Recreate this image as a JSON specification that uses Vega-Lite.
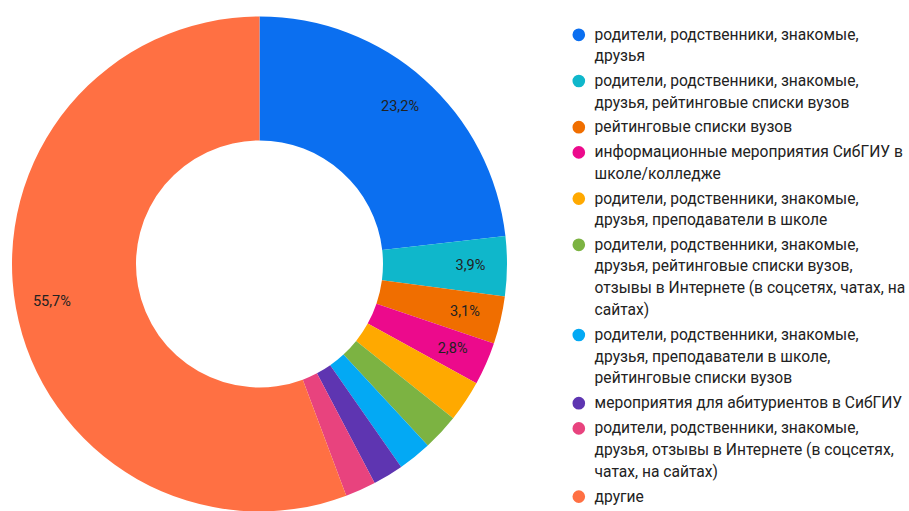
{
  "$schema": "https://vega.github.io/schema/vega-lite/v6.json",
  "autosize": {"type": "none"},
  "width": 519,
  "height": 528,
  "padding": {"left": 0, "top": 0, "right": 390, "bottom": 0},
  "background": "white",
  "config": {
    "view": {"stroke": null},
    "font": "Roboto",
    "style": {"guide-label": {"lineHeight": 21.6}}
  },
  "data": {
    "values": [
      {"idx": 1, "category": "родители, родственники, знакомые,|друзья", "value": 23.2, "pct": "23,2%"},
      {"idx": 2, "category": "родители, родственники, знакомые,|друзья, рейтинговые списки вузов", "value": 3.9, "pct": "3,9%"},
      {"idx": 3, "category": "рейтинговые списки вузов", "value": 3.1, "pct": "3,1%"},
      {"idx": 4, "category": "информационные мероприятия СибГИУ в|школе/колледже", "value": 2.8, "pct": "2,8%"},
      {"idx": 5, "category": "родители, родственники, знакомые,|друзья, преподаватели в школе", "value": 2.7, "pct": ""},
      {"idx": 6, "category": "родители, родственники, знакомые,|друзья, рейтинговые списки вузов,|отзывы в Интернете (в соцсетях, чатах, на|сайтах)", "value": 2.4, "pct": ""},
      {"idx": 7, "category": "родители, родственники, знакомые,|друзья, преподаватели в школе,|рейтинговые списки вузов", "value": 2.2, "pct": ""},
      {"idx": 8, "category": "мероприятия для абитуриентов в СибГИУ", "value": 2.0, "pct": ""},
      {"idx": 9, "category": "родители, родственники, знакомые,|друзья, отзывы в Интернете (в соцсетях,|чатах, на сайтах)", "value": 2.0, "pct": ""},
      {"idx": 10, "category": "другие", "value": 55.7, "pct": "55,7%"}
    ]
  },
  "encoding": {
    "theta": {"field": "value", "type": "quantitative", "stack": true},
    "order": {"field": "idx", "type": "quantitative"}
  },
  "layer": [
    {
      "mark": {"type": "arc", "radius": 247.5, "radius2": 123.5},
      "encoding": {
        "color": {
          "field": "category",
          "type": "nominal",
          "sort": {"field": "idx", "op": "min"},
          "scale": {
            "range": ["#0b6ff0", "#0fb7cb", "#f06e00", "#ec0a8c", "#ffa900", "#7cb342", "#03a9f4", "#5e35b1", "#e8437e", "#ff7043"]
          },
          "legend": {
            "orient": "none",
            "legendX": 571,
            "legendY": 27,
            "title": null,
            "padding": 0,
            "symbolType": "circle",
            "symbolSize": 160,
            "symbolStrokeWidth": 0,
            "symbolOpacity": 1,
            "labelFont": "Roboto",
            "labelFontSize": 15.6,
            "labelColor": "#222222",
            "labelLimit": 400,
            "labelOffset": 8,
            "rowPadding": 8.2,
            "labelExpr": "split(datum.label, '|')"
          }
        }
      }
    },
    {
      "mark": {"type": "text", "radius": 211, "font": "Roboto", "fontSize": 14.5, "color": "#222222"},
      "encoding": {
        "text": {"field": "pct", "type": "nominal"}
      }
    }
  ]
}
